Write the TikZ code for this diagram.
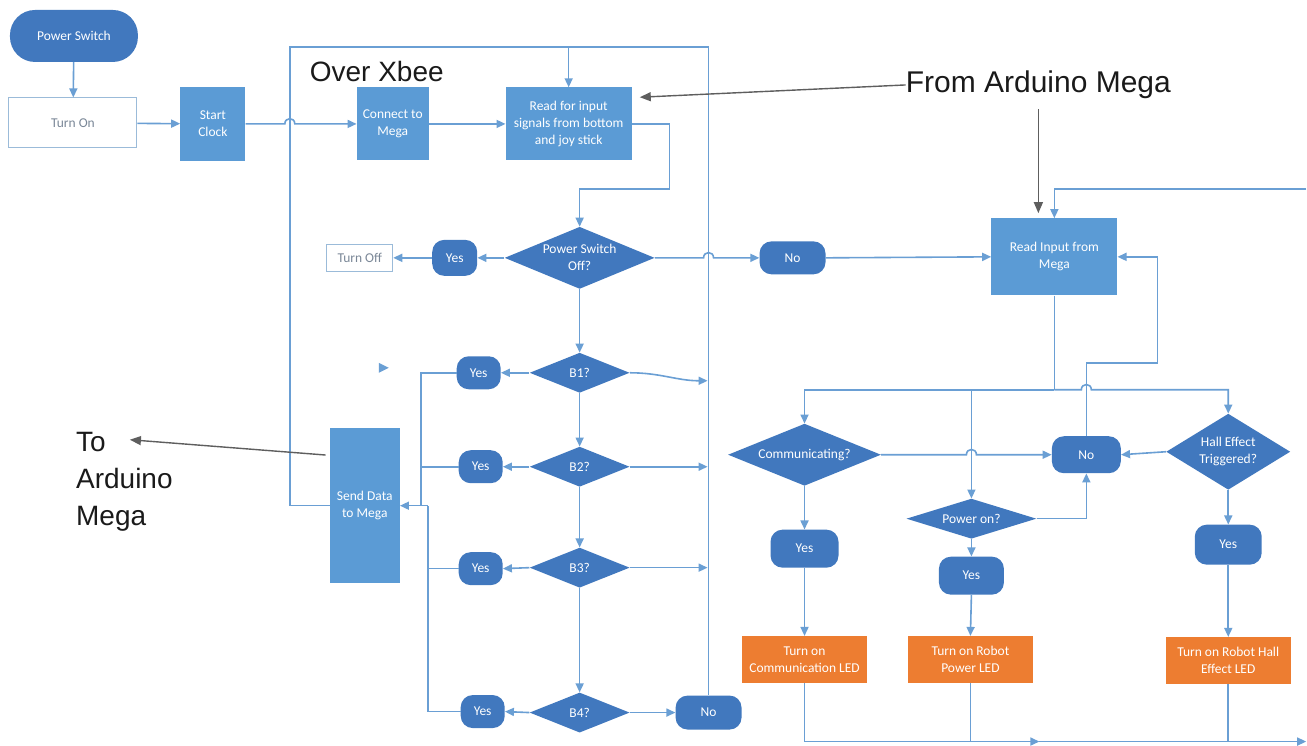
\documentclass[tikz,border=0pt]{standalone}
\usepackage{fontspec}
\setmainfont{Carlito}
\newfontfamily\notefam{Liberation Sans}
\usetikzlibrary{arrows.meta,positioning,calc,shapes.geometric}
\definecolor{ChartBox}{HTML}{5B9BD5}
\definecolor{ChartDark}{HTML}{4178BE}
\definecolor{ChartLine}{HTML}{6A9FD4}
\definecolor{ChartOrange}{HTML}{ED7D31}
\definecolor{ChartEdge}{HTML}{9BBBD9}
\definecolor{ChartGrayText}{HTML}{7A8797}
\definecolor{NoteInk}{HTML}{1A1A1A}
\definecolor{NoteArrow}{HTML}{5E5E5E}
\tikzset{
  flow/.style={-{Triangle[length=9pt,width=8pt]}, line width=1.6pt, draw=ChartLine},
  link/.style={line width=1.6pt, draw=ChartLine},
  callout/.style={-{Triangle[length=11pt,width=9pt]}, line width=1.4pt, draw=NoteArrow},
  proc/.style={rectangle, fill=ChartBox, text=white, align=center, inner sep=2pt,
               font=\fontsize{13.5}{17}\selectfont},
  led/.style={proc, fill=ChartOrange, minimum width=125pt, minimum height=47pt},
  term/.style={proc, fill=ChartDark, rounded corners=12pt},
  ask/.style={diamond, aspect=2.4, fill=ChartDark, text=white, align=center, inner sep=0pt,
              font=\fontsize{13.5}{17}\selectfont},
  plain/.style={rectangle, draw=ChartEdge, line width=1pt, fill=white, text=ChartGrayText,
                align=center, font=\fontsize{13.5}{17}\selectfont},
  note/.style={font=\notefam\fontsize{28}{37}\selectfont, text=NoteInk, align=left, inner sep=0pt},
}

\begin{document}
\begin{tikzpicture}[x=1pt, y=-1pt]
  \path[fill=white] (0,0) rectangle (1307,744);
  % start of the controller
  \node[term, rounded corners=25pt, minimum width=128pt, minimum height=52pt] (pswitch) at (74,36) {Power Switch};
  \node[plain, minimum width=128pt, minimum height=50pt] (turnon) at (73,123) {Turn On};
  \node[proc, minimum width=65pt, minimum height=74pt] (clock) at (213,124) {Start\\Clock};
  \node[proc, minimum width=72pt, minimum height=73pt] (connect) at (393,124) {Connect to\\Mega};
  \node[proc, minimum width=126pt, minimum height=73pt] (readin) at (569,124) {Read for input\\signals from bottom\\and joy stick};
  \node[note] (over) at (377,72) {Over Xbee};
  % power switch check
  \node[ask, minimum width=150pt, minimum height=62pt] (pso) at (580,258) {Power Switch\\Off?};
  \node[term, minimum width=45pt, minimum height=36pt] (yesoff) at (455,258) {Yes};
  \node[plain, minimum width=66pt, minimum height=27pt] (turnoff) at (360,258) {Turn Off};
  \node[term, minimum width=66pt, minimum height=33pt] (noL) at (793,258) {No};
  % buttons
  \node[ask, minimum width=100pt, minimum height=40pt] (b1) at (580,373) {B1?};
  \node[ask, minimum width=100pt, minimum height=40pt] (b2) at (580,467) {B2?};
  \node[ask, minimum width=100pt, minimum height=40pt] (b3) at (580,568) {B3?};
  \node[ask, minimum width=100pt, minimum height=40pt] (b4) at (580,713) {B4?};
  \node[term, minimum width=44pt, minimum height=33pt] (yes1) at (479,373) {Yes};
  \node[term, minimum width=44pt, minimum height=33pt] (yes2) at (481,467) {Yes};
  \node[term, minimum width=44pt, minimum height=33pt] (yes3) at (481,569) {Yes};
  \node[term, minimum width=44pt, minimum height=33pt] (yes4) at (483,712) {Yes};
  \node[term, minimum width=66pt, minimum height=34pt] (no4) at (709,713) {No};
  \node[proc, minimum width=70pt, minimum height=155pt] (send) at (365,506) {Send Data\\to Mega};
  \node[note, anchor=west] (totxt) at (76,482) {To\\Arduino\\Mega};
  % robot side
  \node[note, font=\notefam\fontsize{30}{37}\selectfont] (fromtxt) at (1039,85) {From Arduino Mega};
  \node[proc, minimum width=126pt, minimum height=77pt] (readmega) at (1055,257) {Read Input from\\Mega};
  \node[ask, minimum width=153pt, minimum height=62pt] (comm) at (805,455) {Communicating?};
  \node[ask, minimum width=130pt, minimum height=40pt] (power) at (972,519) {Power on?};
  \node[ask, aspect=1.6, minimum width=124pt, minimum height=76pt] (hall) at (1229,452) {Hall Effect\\Triggered?};
  \node[term, minimum width=69pt, minimum height=37pt] (noR) at (1087,455) {No};
  \node[term, minimum width=68pt, minimum height=38pt] (yesC) at (805,549) {Yes};
  \node[term, minimum width=65pt, minimum height=38pt] (yesP) at (972,576) {Yes};
  \node[term, minimum width=67pt, minimum height=40pt] (yesH) at (1229,545) {Yes};
  \node[led] (ledC) at (805,660) {Turn on\\Communication LED};
  \node[led] (ledP) at (971,660) {Turn on Robot\\Power LED};
  \node[led] (ledH) at (1229,661) {Turn on Robot Hall\\Effect LED};

  % controller connectors
  \draw[flow] (pswitch) -- (turnon);
  \draw[flow] (turnon) -- (clock);
  \coordinate (hopA) at (290,124);
  \draw[flow] (clock.east) -- ($(hopA)+(-5,0)$) .. controls +(0,-7) and +(0,-7) .. ($(hopA)+(5,0)$) -- (connect.west);
  \draw[flow] (connect) -- (readin);
  \coordinate (loopL) at (290,47);
  \coordinate (loopR) at (709,47);
  \draw[link] (send.west) -| (loopL) -- (loopR) -- (no4.north);
  \draw[flow] (readin.north |- loopL) -- (readin.north);
  \coordinate (drop) at (670,189);
  \draw[flow] (readin.east) -| (drop) -| (pso.north);
  \draw[flow] (pso.west) -- (yesoff.east);
  \draw[flow] (yesoff.west) -- (turnoff.east);
  \coordinate (hopB) at (709,258);
  \draw[flow] (pso.east) -- ($(hopB)+(-5,0)$) .. controls +(0,-7) and +(0,-7) .. ($(hopB)+(5,0)$) -- (noL.west);
  \draw[flow] (noL.east) -- (readmega.west);
  \draw[flow] (pso.south) -- (b1.north);
  \draw[flow] (b1.south) -- (b2.north);
  \draw[flow] (b2.south) -- (b3.north);
  \draw[flow] (b3.south) -- (b4.north);
  \draw[flow] (b1.west) -- (yes1.east);
  \draw[flow] (b2.west) -- (yes2.east);
  \draw[flow] (b3.west) -- (yes3.east);
  \draw[flow] (b4.west) -- (yes4.east);
  \draw[flow] (b1.east) to[out=0,in=180] ($(b1.east -| loopR)+(-1,8)$);
  \draw[flow] (b2.east) -- ($(b2.east -| loopR)+(-1,0)$);
  \draw[flow] (b3.east) -- ($(b3.east -| loopR)+(-1,0)$);
  \draw[flow] (b4.east) -- (no4.west);
  \coordinate (busU) at (421,506);
  \coordinate (busL) at (428,506);
  \draw[link] (yes1.west) -| (busU);
  \draw[link] (yes2.west) -- (yes2.west -| busU);
  \draw[link] (yes4.west) -| (busL);
  \draw[link] (yes3.west) -- (yes3.west -| busL);
  \draw[flow] (busL) -- (send.east);
  \fill[ChartLine] (379,363) -- (389,368) -- (379,373) -- cycle;

  % robot connectors
  \coordinate (edgeTop) at (1307,189);
  \draw[flow] (edgeTop) -| (readmega.north);
  \coordinate (split) at (1055,390);
  \draw[link] (readmega.south) -- (split);
  \draw[flow] (split) -| (comm.north);
  \draw[flow] (split -| power.north) -- (power.north);
  \draw[flow] (split) -- ($(split -| noR)+(-5,0)$) .. controls +(0,-7) and +(0,-7) .. ($(split -| noR)+(5,0)$) -| (hall.north);
  \draw[flow] (comm.east) -- ($(comm.east -| power)+(-5,0)$) .. controls +(0,-7) and +(0,-7) .. ($(comm.east -| power)+(5,0)$) -- (noR.west);
  \draw[flow] (hall.west) -- (noR.east);
  \draw[flow] (power.east) -| (noR.south);
  \coordinate (backR) at (1158,363);
  \draw[flow] (noR.north) |- (backR) |- (readmega.east);
  \draw[flow] (comm.south) -- (yesC.north);
  \draw[flow] (power.south) -- (yesP.north);
  \draw[flow] (hall.south) -- (yesH.north);
  \draw[flow] (yesC.south) -- (ledC.north);
  \draw[flow] (yesP.south) -- (ledP.north);
  \draw[flow] (yesH.south) -- (ledH.north);
  \coordinate (bus1) at (1040,742);
  \coordinate (edgeBot) at (1307,742);
  \draw[flow] (ledC.south) |- (bus1);
  \draw[flow] (bus1) -- (edgeBot);
  \draw[link] (ledP.south) -- (ledP.south |- edgeBot);
  \draw[link] (ledH.south) -- (ledH.south |- edgeBot);

  % notes
  \draw[callout] (fromtxt.west) -- ($(readin.north east)+(8,10)$);
  \draw[callout] ([yshift=-10pt]fromtxt.south) -- ([yshift=5pt]fromtxt.south |- readmega.north);
  \coordinate (toTip) at (130,440);
  \draw[callout] ($(send.north west)+(-4,27)$) -- (toTip);
\end{tikzpicture}
\end{document}
